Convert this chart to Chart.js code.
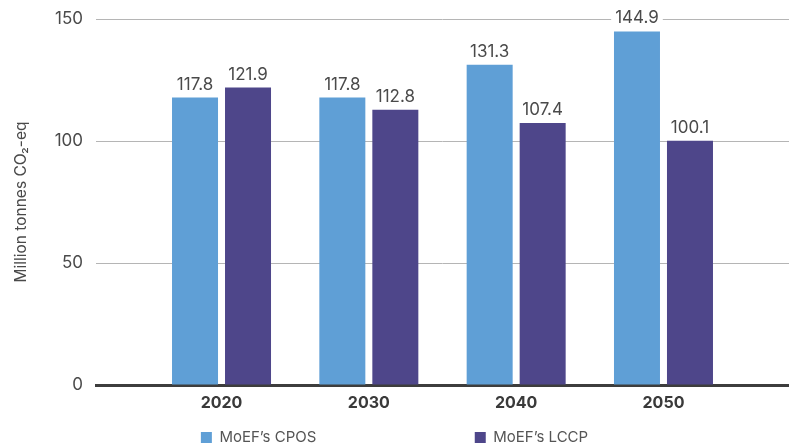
<!DOCTYPE html>
<html>
<head>
<meta charset="utf-8">
<script src="https://cdn.jsdelivr.net/npm/chart.js@4.4.1/dist/chart.umd.min.js"></script>
<style>
  html, body { margin: 0; padding: 0; background: #ffffff; }
  #wrap { width: 789px; height: 447px; position: relative; }
</style>
</head>
<body>
<div id="wrap"><canvas id="c" width="789" height="447"></canvas></div>
<script>
const categories = ['2020', '2030', '2040', '2050'];
const cposValues = [117.8, 117.8, 131.3, 144.9];
const lccpValues = [121.9, 112.8, 107.4, 100.1];
const yTicks = [0, 50, 100, 150];
const seriesNames = ['MoEF\u2019s CPOS', 'MoEF\u2019s LCCP'];
const yTitle = 'Million tonnes CO\u2082-eq';

const FONT = 'Inter, "Open Sans", sans-serif';
const BLUE = '#5f9fd6';
const PURPLE = '#4e468a';

const valueLabels = {
  id: 'valueLabels',
  afterDatasetsDraw(chart) {
    const ctx = chart.ctx;
    ctx.save();
    ctx.font = '400 17px ' + FONT;
    ctx.textAlign = 'center';
    ctx.textBaseline = 'alphabetic';
    chart.data.datasets.forEach((ds, di) => {
      const meta = chart.getDatasetMeta(di);
      meta.data.forEach((bar, i) => {
        const txt = ds.data[i].y.toFixed(1);
        const w = ctx.measureText(txt).width;
        const by = bar.y - 8;
        ctx.fillStyle = '#ffffff';
        ctx.fillRect(bar.x - w / 2 - 4, by - 14, w + 8, 18);
        ctx.fillStyle = '#4a4a4a';
        ctx.fillText(txt, bar.x, by);
      });
    });
    ctx.restore();
  }
};

new Chart(document.getElementById('c'), {
  type: 'bar',
  data: {
    datasets: [
      { label: seriesNames[0], data: cposValues.map((v, i) => ({ x: i, y: v })), backgroundColor: BLUE },
      { label: seriesNames[1], data: lccpValues.map((v, i) => ({ x: i, y: v })), backgroundColor: PURPLE }
    ]
  },
  options: {
    responsive: false,
    animation: false,
    devicePixelRatio: 1,
    categoryPercentage: 0.7195,
    barPercentage: 0.868,
    layout: { padding: { top: 19, right: 0, bottom: -8, left: 0 } },
    scales: {
      x: {
        type: 'linear',
        offset: false,
        min: -0.852,
        max: 3.852,
        afterBuildTicks(scale) { scale.ticks = categories.map((c, i) => ({ value: i })); },
        afterFit(scale) { scale.height = 30; },
        grid: { display: false, drawTicks: false, offset: false },
        border: { display: true, color: '#3d3d3d', width: 3 },
        ticks: {
          autoSkip: false,
          maxRotation: 0,
          padding: 9,
          color: '#3a3a3a',
          font: { family: FONT, size: 16, weight: '700' },
          callback: (v, i) => categories[i]
        }
      },
      y: {
        min: 0,
        max: 150,
        afterBuildTicks(scale) { scale.ticks = yTicks.map(v => ({ value: v })); },
        afterFit(scale) { scale.width = 96; scale.paddingTop = 0; scale.paddingBottom = 0; },
        grid: { color: '#b5b5b5', lineWidth: 1, drawTicks: false },
        border: { display: false },
        ticks: {
          padding: 13,
          color: '#4a4a4a',
          font: { family: FONT, size: 17, weight: '400' }
        },
        title: {
          display: true,
          text: yTitle,
          color: '#4a4a4a',
          font: { family: FONT, size: 15.5, weight: '400' },
          padding: { top: 12, bottom: 0 }
        }
      }
    },
    plugins: {
      legend: {
        position: 'bottom',
        labels: {
          boxWidth: 11,
          boxHeight: 11,
          padding: 15,
          color: '#555555',
          font: { family: FONT, size: 15, weight: '400' },
          generateLabels(chart) {
            return chart.data.datasets.map((ds, i) => ({
              text: i === 0 ? ds.label + '\u00a0'.repeat(34) : ds.label,
              fillStyle: ds.backgroundColor,
              strokeStyle: ds.backgroundColor,
              lineWidth: 0,
              fontColor: '#555555',
              hidden: false,
              datasetIndex: i
            }));
          }
        }
      },
      tooltip: { enabled: false }
    }
  },
  plugins: [valueLabels]
});
</script>
</body>
</html>
